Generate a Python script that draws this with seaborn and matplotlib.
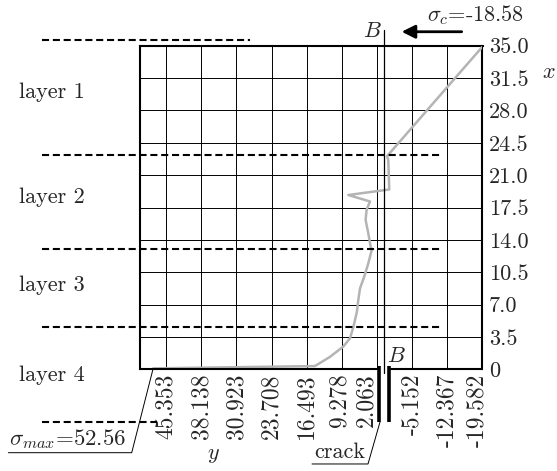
import matplotlib
matplotlib.use("Agg")
import matplotlib.pyplot as plt
import matplotlib.transforms as mtransforms
import numpy as np
import pandas as pd
import seaborn as sns

# ---------------- data ----------------
sigma_vals = [48.0, 14.8, 11.7, 9.0, 7.6, 6.9, 6.2, 5.9, 5.55, 4.7, 3.85, 3.15,
              3.35, 3.85, 4.4, 4.2, 3.5, 7.95, -0.45, -0.25, 0.0, -19.5]
depth_vals = [0.1, 0.35, 1.35, 2.45, 3.35, 4.6, 6.2, 7.5, 8.75, 10.0, 11.45, 12.9,
              13.25, 14.7, 16.15, 17.25, 18.15, 18.85, 19.45, 22.65, 23.05, 34.85]
x_tick_vals = [45.353, 38.138, 30.923, 23.708, 16.493, 9.278, 2.063, -5.152, -12.367, -19.582]
x_tick_labels = ["45.353", "38.138", "30.923", "23.708", "16.493", "9.278", "2.063",
                 "-5.152", "-12.367", "-19.582"]
y_tick_vals = [0, 3.5, 7.0, 10.5, 14.0, 17.5, 21.0, 24.5, 28.0, 31.5, 35.0]
y_tick_labels = ["0", "3.5", "7.0", "10.5", "14.0", "17.5", "21.0", "24.5", "28.0", "31.5", "35.0"]
layer_bounds = [35.6, 23.23, 12.96, 4.61, -5.73]
layer_names = ["layer 1", "layer 2", "layer 3", "layer 4"]
layer_label_y = [30.0, 18.6, 9.1, -0.6]
sigma_max = 52.56
sigma_c = -18.58
crack_left, crack_right = 1.6, -0.39
b_line = 0.57

df = pd.DataFrame({"sigma": sigma_vals, "depth": depth_vals})

# ---------------- style ----------------
sns.set_style("white")
plt.rcParams["font.family"] = ["cmr10", "DejaVu Serif"]
plt.rcParams["mathtext.fontset"] = "cm"
plt.rcParams["axes.unicode_minus"] = False
plt.rcParams["axes.formatter.use_mathtext"] = True

FS = 16
W, H = 557, 471
fig = plt.figure(figsize=(W / 100, H / 100), dpi=100)
ax = fig.add_axes([140 / W, 1 - 369.3 / H, 342.5 / W, 323.6 / H])

sns.lineplot(data=df, x="sigma", y="depth", sort=False, estimator=None,
             color="#b4b4b4", lw=1.8, ax=ax, zorder=3)

ax.set_xlim(50.69, -19.582)
ax.set_ylim(0, 35)
ax.set_xticks(x_tick_vals)
ax.set_xticklabels(x_tick_labels, rotation=90, fontsize=17)
ax.set_yticks(y_tick_vals)
ax.set_yticklabels(y_tick_labels, fontsize=FS)
ax.yaxis.tick_right()
ax.tick_params(axis="x", length=0, pad=3)
ax.tick_params(axis="y", length=0, pad=4.5)
ax.set_xlabel("")
ax.set_ylabel("")
ax.grid(True, color="black", lw=0.7)
ax.yaxis.get_gridlines()[0].set_visible(False)

# nudge a few x tick labels left, as in the reference (clear of the crack)
label_shift_px = {5: -2, 6: -11, 9: -5}
xt_labels = ax.get_xticklabels()
for idx, dx in label_shift_px.items():
    lab = xt_labels[idx]
    lab.set_transform(lab.get_transform() +
                      mtransforms.ScaledTranslation(dx / 100, 0, fig.dpi_scale_trans))

for s in ["top", "left", "right"]:
    ax.spines[s].set_linewidth(1.5)
    ax.spines[s].set_color("black")
ax.spines["bottom"].set_visible(False)
# bottom frame with crack gap
ax.plot([50.69, crack_left], [0, 0], color="black", lw=1.5, clip_on=False, zorder=4,
        solid_capstyle="butt")
ax.plot([crack_right, -19.582], [0, 0], color="black", lw=1.5, clip_on=False, zorder=4,
        solid_capstyle="butt")

# crack lines
for cx in (crack_left, crack_right):
    ax.plot([cx, cx], [0.36, -5.67], color="black", lw=2.6, clip_on=False, zorder=5,
            solid_capstyle="butt")

# B line
ax.plot([b_line, b_line], [36.7, -0.43], color="black", lw=0.9, clip_on=False, zorder=4)
ax.text(3.0, 36.6, r"$B$", fontsize=FS, ha="center", va="center", clip_on=False)
ax.text(-1.83, 1.44, r"$B$", fontsize=FS, ha="center", va="center", clip_on=False)

# layer boundaries
dash = (3.4, 1.8)
ax.plot([70.85, 28.04], [layer_bounds[0]] * 2, color="black", lw=1.5, ls=(0, dash),
        clip_on=False)
for yb in layer_bounds[1:4]:
    ax.plot([70.85, -11.2], [yb, yb], color="black", lw=1.5, ls=(0, dash), clip_on=False,
            zorder=4)
ax.plot([70.85, 47.26], [layer_bounds[4]] * 2, color="black", lw=1.5, ls=(0, dash),
        clip_on=False)

for name, ly in zip(layer_names, layer_label_y):
    ax.text(75.6, ly, name, fontsize=FS, ha="left", va="center", clip_on=False)

# sigma_c arrow
ax.annotate("", xy=(-3.0, 36.51), xytext=(-15.31, 36.51),
            arrowprops=dict(arrowstyle="-|>", lw=2, color="black", mutation_scale=20,
                            shrinkA=0, shrinkB=0),
            annotation_clip=False)
ax.text(-18.24, 38.33, r"$\sigma_c$=" + f"{sigma_c:.2f}", fontsize=FS, ha="center",
        va="center", clip_on=False)

# sigma_max annotation
ax.plot([48.02, 52.39, 77.7], [0.03, -9.02, -9.02], color="black", lw=0.7, clip_on=False)
ax.text(77.5, -8.8, r"$\sigma_{max}$=" + f"{sigma_max:.2f}", fontsize=16.5, ha="left",
        va="bottom", clip_on=False)

# crack annotation
ax.plot([1.45, 3.91, 15.4], [-5.7, -10.24, -10.24], color="black", lw=0.7, clip_on=False)
ax.text(4.5, -10.05, "crack", fontsize=FS, ha="right", va="bottom", clip_on=False)

# axis names
fig.text(549 / W, 1 - 72 / H, r"$x$", fontsize=FS, ha="center", va="center")
fig.text(213 / W, 1 - 455 / H, r"$y$", fontsize=FS, ha="center", va="center")

fig.savefig("out.png", dpi=100)
